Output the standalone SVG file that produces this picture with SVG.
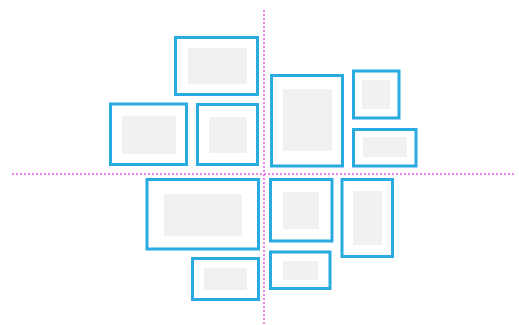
<svg xmlns="http://www.w3.org/2000/svg" width="519" height="325" viewBox="0 0 519 325">
<style>
.frame{fill:#ffffff;stroke:#29abe2;stroke-width:3}
.mat{fill:#f1f1f1;stroke:none}
.guide{fill:none;stroke:#e848e0;stroke-width:1.8;stroke-dasharray:0 4;stroke-linecap:round}
</style>
<rect width="519" height="325" fill="#ffffff"/>
<g id="connectors">
<line class="guide" x1="264" y1="11" x2="264" y2="325"/>
<line class="guide" x1="13" y1="174" x2="515" y2="174"/>
</g>
<g id="frame1"><rect class="frame" x="175.5" y="37.5" width="82" height="57"/><rect class="mat" x="188" y="48" width="59" height="36"/></g>
<g id="frame2"><rect class="frame" x="110.5" y="104" width="76" height="60.5"/><rect class="mat" x="122" y="116" width="54" height="38"/></g>
<g id="frame3"><rect class="frame" x="197.5" y="104.5" width="60" height="60"/><rect class="mat" x="209" y="117" width="38" height="36"/></g>
<g id="frame4"><rect class="frame" x="271.5" y="75.5" width="71" height="90.5"/><rect class="mat" x="283" y="89" width="49" height="62"/></g>
<g id="frame5"><rect class="frame" x="353.5" y="71" width="45.5" height="47"/><rect class="mat" x="362" y="80" width="28" height="29"/></g>
<g id="frame6"><rect class="frame" x="353.5" y="129.5" width="62.5" height="36.5"/><rect class="mat" x="363" y="137" width="44" height="20"/></g>
<g id="frame7"><rect class="frame" x="147" y="179.5" width="111.5" height="69.5"/><rect class="mat" x="164" y="194" width="78" height="42"/></g>
<g id="frame8"><rect class="frame" x="192.5" y="258.5" width="66" height="41"/><rect class="mat" x="204" y="268" width="43" height="22"/></g>
<g id="frame9"><rect class="frame" x="270.5" y="179.5" width="61.5" height="61.5"/><rect class="mat" x="283" y="192" width="36" height="37"/></g>
<g id="frame10"><rect class="frame" x="342" y="179.5" width="50.5" height="77"/><rect class="mat" x="353" y="191" width="29" height="54"/></g>
<g id="frame11"><rect class="frame" x="270.5" y="252" width="59.5" height="36.5"/><rect class="mat" x="283" y="261" width="35" height="19"/></g>
</svg>
